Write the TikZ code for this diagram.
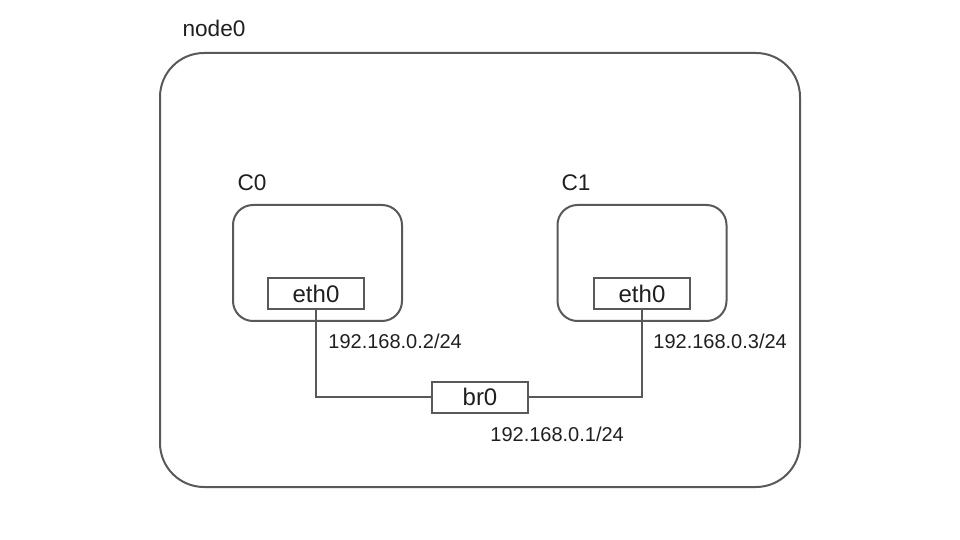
\documentclass[tikz,border=0pt]{standalone}
\usepackage{fontspec}
\setmainfont{Liberation Sans}
\usetikzlibrary{positioning,calc}
\definecolor{linegray}{HTML}{595959}
\definecolor{textgray}{HTML}{1F1F1F}
\tikzset{
    hostbox/.style={
        draw=linegray,
        line width=1pt,
        rounded corners=22pt,
        minimum width=320pt,
        minimum height=217pt,
        inner sep=0pt
    },
    ctbox/.style={
        draw=linegray,
        line width=1pt,
        rounded corners=10pt,
        minimum width=84.5pt,
        minimum height=58pt,
        inner sep=0pt
    },
    ifbox/.style={
        draw=linegray,
        line width=1pt,
        minimum width=48pt,
        minimum height=15.5pt,
        inner sep=0pt,
        text=textgray,
        font={\fontsize{12pt}{14}\selectfont}
    },
    title/.style={text=textgray, inner sep=0pt, font={\fontsize{11.3pt}{13}\selectfont}},
    addr/.style={text=textgray, inner sep=0pt, anchor=west, font={\fontsize{10pt}{12}\selectfont}},
    wire/.style={draw=linegray, line width=1pt},
}

\begin{document}
\begin{tikzpicture}[x=0.5pt, y=-0.5pt]
    \useasboundingbox (0,0) rectangle (960,540);

    % host and its two containers
    \node[hostbox] (host) at (480,270) {};
    \node[title] (hostname) at (214,28) {node0};

    \node[ctbox] (c0) at (317.5,263) {};
    \node[ctbox] (c1) at (642,263) {};
    \node[title] (c0name) at (252,183) {C0};
    \node[title] (c1name) at (576,183) {C1};

    % interfaces
    \node[ifbox] (eth0a) at (316,294) {eth0};
    \node[ifbox] (eth0b) at (642,294) {eth0};
    \node[ifbox] (br0)   at (480,397) {br0};

    \node[addr] (ipa)  at (328,341) {192.168.0.2/24};
    \node[addr] (ipb)  at (653,341) {192.168.0.3/24};
    \node[addr] (ipbr) at (490,434) {192.168.0.1/24};

    % links to the bridge
    \draw[wire] (eth0a.south) |- (br0.west);
    \draw[wire] (br0.east) -| (eth0b.south);

\end{tikzpicture}
\end{document}
